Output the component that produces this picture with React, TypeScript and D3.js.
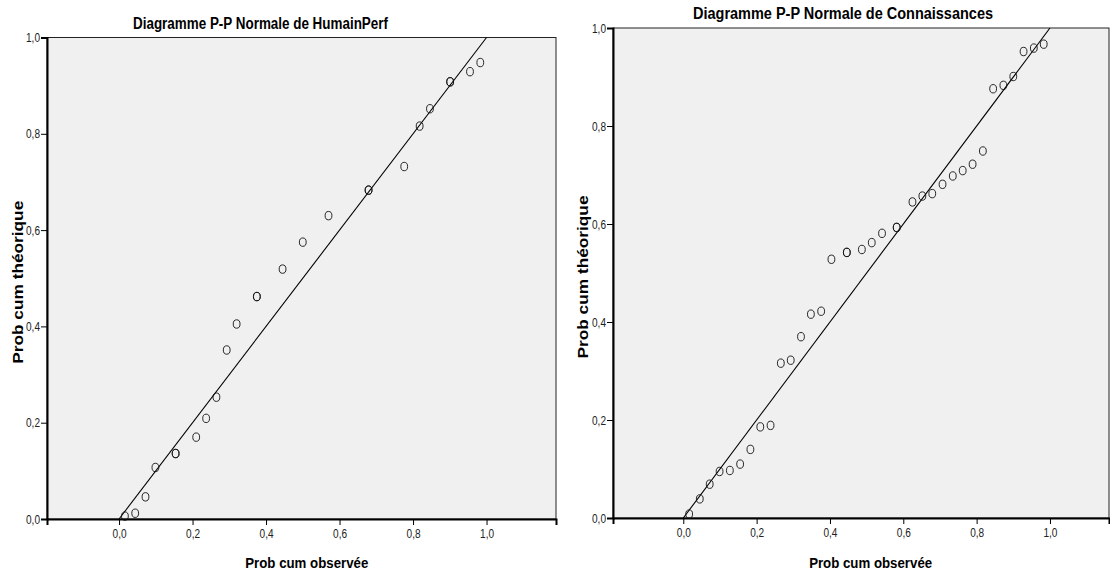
import React, { useEffect, useRef } from 'react';
import * as d3 from 'd3';

// P-P data read off the picture (observed cum prob, theoretical cum prob)
// tied cases are listed twice, which makes their circle look bolder
const humainObs = [0.016, 0.044, 0.072, 0.099, 0.154, 0.154, 0.21, 0.237, 0.265, 0.293, 0.32, 0.375, 0.375,
    0.445, 0.5, 0.57, 0.679, 0.679, 0.776, 0.818, 0.846, 0.901, 0.901, 0.955, 0.983];
const humainTheo = [0.006, 0.012, 0.046, 0.107, 0.136, 0.136, 0.17, 0.209, 0.253, 0.351, 0.405, 0.462, 0.462,
    0.519, 0.575, 0.63, 0.683, 0.683, 0.732, 0.816, 0.852, 0.908, 0.908, 0.929, 0.948];

const connObs = [0.016, 0.045, 0.072, 0.099, 0.127, 0.155, 0.183, 0.21, 0.238, 0.266, 0.293, 0.321, 0.348, 0.376,
    0.404, 0.446, 0.446, 0.487, 0.514, 0.542, 0.582, 0.582, 0.625, 0.652, 0.679, 0.707, 0.735, 0.762, 0.789, 0.817,
    0.845, 0.873, 0.9, 0.928, 0.956, 0.983];
const connTheo = [0.008, 0.039, 0.069, 0.095, 0.097, 0.11, 0.14, 0.186, 0.189, 0.316, 0.322, 0.37, 0.416, 0.422,
    0.528, 0.542, 0.542, 0.548, 0.562, 0.581, 0.593, 0.593, 0.645, 0.657, 0.662, 0.681, 0.698, 0.709, 0.722, 0.749,
    0.876, 0.883, 0.901, 0.952, 0.959, 0.967];

const tickValues = [0, 0.2, 0.4, 0.6, 0.8, 1.0];
const xLabel = 'Prob cum observée';
const yLabel = 'Prob cum théorique';

// narrow look = Liberation Sans squeezed with textLength
const font = '"Liberation Sans", Arial, sans-serif';

function PPPlot(props) {
    const { obs, theo, title, box, titleY, titleLen, ylabX } = props;
    const ref = useRef(null);

    useEffect(() => {
        drawChart();
    }, [obs, theo]);

    function drawChart() {
        const g = d3.select(ref.current);
        g.selectAll('*').remove();

        const xScale = d3.scaleLinear().domain(box.xDomain).range([box.x0, box.x1]);
        const yScale = d3.scaleLinear().domain([0, 1]).range([box.y1, box.y0]);
        const fmt = d => d3.format('.1f')(d).replace('.', ',');

        g.append('rect')
            .attr('x', box.x0).attr('y', box.y0)
            .attr('width', box.x1 - box.x0).attr('height', box.y1 - box.y0)
            .attr('fill', '#f0f0f0')
            .attr('stroke', '#222')
            .attr('stroke-width', 1);

        const xAxis = g.append('g')
            .attr('transform', `translate(0,${box.y1})`)
            .call(d3.axisBottom(xScale).tickValues(tickValues).tickFormat(fmt).tickSizeOuter(0).tickSize(6).tickPadding(4));
        const yAxis = g.append('g')
            .attr('transform', `translate(${box.x0},0)`)
            .call(d3.axisLeft(yScale).tickValues(tickValues).tickFormat(fmt).tickSizeOuter(0).tickSize(6).tickPadding(1));

        [xAxis, yAxis].forEach(a => {
            a.select('.domain').attr('stroke', '#000').attr('stroke-width', 2);
            a.selectAll('.tick line').attr('stroke', '#000');
            a.selectAll('.tick text')
                .attr('fill', '#222')
                .attr('textLength', 14)
                .attr('lengthAdjust', 'spacingAndGlyphs')
                .style('font-family', font)
                .style('font-size', '12.5px');
        });

        const myLine = d3.line()
            .x(d => xScale(d))
            .y(d => yScale(d));

        g.append('path')
            .attr('d', myLine([0, 1]))
            .attr('fill', 'none')
            .attr('stroke', '#000')
            .attr('stroke-width', 1.1);

        g.selectAll('ellipse.pt')
            .data(obs.map((o, i) => [o, theo[i]]))
            .enter().append('ellipse')
            .attr('class', 'pt')
            .attr('cx', d => xScale(d[0]))
            .attr('cy', d => yScale(d[1]))
            .attr('rx', 3.4)
            .attr('ry', 4.2)
            .attr('fill', 'none')
            .attr('stroke', '#111')
            .attr('stroke-width', 0.9);

        const cx = (xScale(0) + xScale(1)) / 2 + 4;
        g.append('text')
            .attr('x', (box.x0 + box.x1) / 2 + box.titleShift)
            .attr('y', titleY)
            .attr('text-anchor', 'middle')
            .attr('textLength', titleLen)
            .attr('lengthAdjust', 'spacingAndGlyphs')
            .style('font-family', font)
            .style('font-weight', 'bold')
            .style('font-size', '16px')
            .text(title);

        g.append('text')
            .attr('x', cx)
            .attr('y', 568)
            .attr('text-anchor', 'middle')
            .attr('textLength', 123)
            .attr('lengthAdjust', 'spacingAndGlyphs')
            .style('font-family', font)
            .style('font-weight', 'bold')
            .style('font-size', '15px')
            .text(xLabel);

        const cy = (box.y0 + box.y1) / 2 + 4;
        g.append('text')
            .attr('transform', `translate(${ylabX},${cy}) rotate(-90)`)
            .attr('text-anchor', 'middle')
            .attr('textLength', 163)
            .attr('lengthAdjust', 'spacingAndGlyphs')
            .style('font-family', font)
            .style('font-weight', 'bold')
            .style('font-size', '14px')
            .text(yLabel);
    }

    return <g ref={ref} />;
}

export default function App() {
    return (
        <svg width={1110} height={575} style={{ position: 'absolute', left: 0, top: 0, background: '#fff' }}>
            <PPPlot obs={humainObs} theo={humainTheo}
                title="Diagramme P-P Normale de HumainPerf"
                box={{ x0: 47, x1: 556, y0: 37.5, y1: 519, xDomain: [-0.196, 1.189], titleShift: -41 }}
                titleY={29} titleLen={255} ylabX={23} />
            <PPPlot obs={connObs} theo={connTheo}
                title="Diagramme P-P Normale de Connaissances"
                box={{ x0: 613, x1: 1109, y0: 28, y1: 518, xDomain: [-0.1917, 1.161], titleShift: -18 }}
                titleY={19} titleLen={300} ylabX={588} />
        </svg>
    );
}
